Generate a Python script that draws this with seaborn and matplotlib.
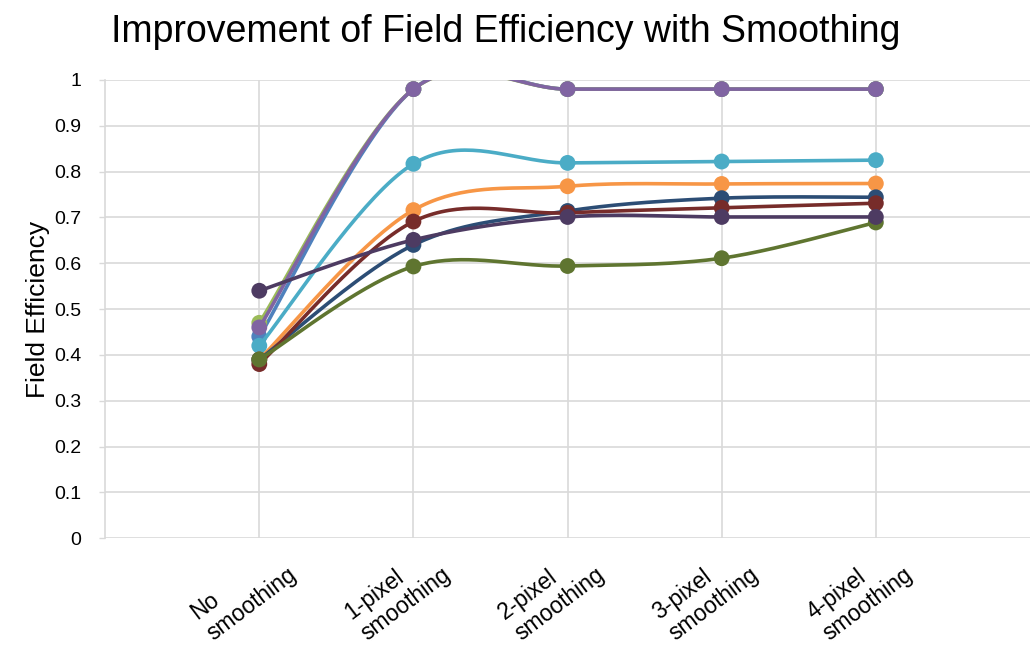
import numpy as np
import pandas as pd
import matplotlib
matplotlib.use("Agg")
import matplotlib.pyplot as plt
import matplotlib.transforms as mtransforms
import seaborn as sns

categories = ["No\nsmoothing", "1-pixel\nsmoothing", "2-pixel\nsmoothing",
              "3-pixel\nsmoothing", "4-pixel\nsmoothing"]

s_blue = [0.44, 0.98, 0.98, 0.98, 0.98]
s_green = [0.47, 0.98, 0.98, 0.98, 0.98]
s_purple = [0.46, 0.98, 0.98, 0.98, 0.98]
s_lightblue = [0.42, 0.817, 0.819, 0.822, 0.825]
s_orange = [0.39, 0.716, 0.768, 0.773, 0.774]
s_darkblue = [0.39, 0.64, 0.714, 0.742, 0.744]
s_darkred = [0.38, 0.691, 0.71, 0.721, 0.731]
s_olive = [0.39, 0.593, 0.594, 0.611, 0.689]
s_darkpurple = [0.54, 0.651, 0.701, 0.701, 0.701]

series_names = ["S1", "S2", "S3", "S4", "S5", "S6", "S7", "S8", "S9"]
series_values = [s_blue, s_green, s_purple, s_lightblue, s_orange,
                 s_darkblue, s_darkred, s_olive, s_darkpurple]
colors = ["#4F81BD", "#9BBB59", "#8064A2", "#4BACC6", "#F79646",
          "#2C4D75", "#772C2A", "#5F7530", "#4D3B62"]


def smooth(xs, ys, n=40):
    pts = np.column_stack([xs, ys]).astype(float)
    out = []
    m = len(pts)
    for i in range(m - 1):
        p0 = pts[i - 1] if i > 0 else pts[i]
        p1 = pts[i]
        p2 = pts[i + 1]
        p3 = pts[i + 2] if i + 2 < m else pts[i + 1]
        c1 = p1 + (p2 - p0) / 6.0
        c2 = p2 - (p3 - p1) / 6.0
        t = np.linspace(0, 1, n)[:, None]
        b = ((1 - t) ** 3) * p1 + 3 * ((1 - t) ** 2) * t * c1 + 3 * (1 - t) * t ** 2 * c2 + t ** 3 * p2
        if i > 0:
            b = b[1:]
        out.append(b)
    return np.vstack(out)


sns.set_theme(style="white")
plt.rcParams["font.family"] = ["Liberation Sans", "DejaVu Sans"]
plt.rcParams["text.color"] = "black"
plt.rcParams["xtick.color"] = "black"
plt.rcParams["ytick.color"] = "black"
plt.rcParams["axes.labelcolor"] = "black"

fig = plt.figure(figsize=(10.31, 6.5), dpi=100)
ax = fig.add_axes([0.102, 0.172, 0.897, 0.705])

xpos = np.arange(len(categories))
rows = []
pts_rows = []
for name, vals in zip(series_names, series_values):
    sm = smooth(xpos, vals)
    for k, (sx, sy) in enumerate(sm):
        rows.append({"series": name, "order": k, "x": sx, "y": sy})
    for x, v in zip(xpos, vals):
        pts_rows.append({"series": name, "x": x, "y": v})
df_line = pd.DataFrame(rows)
df_pts = pd.DataFrame(pts_rows)

for name, col in zip(series_names, colors):
    sub = df_line[df_line["series"] == name]
    sns.lineplot(data=sub, x="x", y="y", sort=False, color=col, lw=2.6,
                 ax=ax, estimator=None, legend=False, zorder=3)
    subp = df_pts[df_pts["series"] == name]
    sns.scatterplot(data=subp, x="x", y="y", color=col, s=130, edgecolor="none",
                    ax=ax, legend=False, zorder=3)

ax.set_xlim(-1, 5)
ax.set_ylim(0, 1)
ax.set_yticks(np.arange(0, 1.01, 0.1))
ax.set_yticklabels(["0", "0.1", "0.2", "0.3", "0.4", "0.5", "0.6", "0.7", "0.8", "0.9", "1"])
ax.set_xticks(xpos)
ax.set_xticklabels([])
label_trans = mtransforms.offset_copy(ax.get_xaxis_transform(), fig=fig, x=-16, y=-4, units="dots")
for x, lab in zip(xpos, categories):
    ax.text(x, 0, lab, transform=label_trans, rotation=37, ha="center", va="top",
            fontsize=16.5, linespacing=1.2, multialignment="left", clip_on=False)
ax.tick_params(axis="x", length=0)
ax.tick_params(axis="y", length=4, color="#d9d9d9", width=1, labelsize=14, pad=13, direction="out", left=True)
ax.grid(True, color="#d9d9d9", lw=1.2)
ax.set_axisbelow(True)
for sp in ["top", "right", "bottom"]:
    ax.spines[sp].set_visible(False)
ax.spines["left"].set_color("#d9d9d9")
ax.spines["left"].set_linewidth(1.2)
ax.set_xlabel("")
ax.set_ylabel("Field Efficiency", fontsize=19, labelpad=3)
fig.text(0.49, 0.951, "Improvement of Field Efficiency with Smoothing", ha="center", va="center", fontsize=27)

fig.savefig("out.png", dpi=100)
